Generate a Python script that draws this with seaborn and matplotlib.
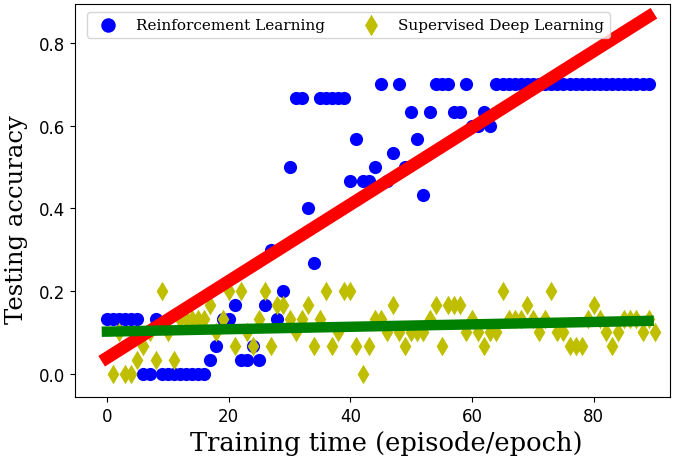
import matplotlib
matplotlib.use("Agg")
import matplotlib.pyplot as plt
import numpy as np
import pandas as pd
import seaborn as sns

# testing accuracy per episode (reinforcement learning), episodes 0..89
rl_episode = list(range(0, 90))
rl_acc = [
    0.133, 0.133, 0.133, 0.133, 0.133, 0.133, 0.0, 0.0, 0.133, 0.0,
    0.0, 0.0, 0.0, 0.0, 0.0, 0.0, 0.0, 0.033, 0.067, 0.133,
    0.133, 0.167, 0.033, 0.033, 0.067, 0.033, 0.167, 0.3, 0.133, 0.2,
    0.5, 0.667, 0.667, 0.4, 0.267, 0.667, 0.667, 0.667, 0.667, 0.667,
    0.467, 0.567, 0.467, 0.467, 0.5, 0.7, 0.467, 0.533, 0.7, 0.5,
    0.633, 0.567, 0.433, 0.633, 0.7, 0.7, 0.7, 0.633, 0.633, 0.7,
    0.6, 0.6, 0.633, 0.6, 0.7, 0.7, 0.7, 0.7, 0.7, 0.7,
    0.7, 0.7, 0.7, 0.7, 0.7, 0.7, 0.7, 0.7, 0.7, 0.7,
    0.7, 0.7, 0.7, 0.7, 0.7, 0.7, 0.7, 0.7, 0.7, 0.7,
]

# testing accuracy per epoch (supervised deep learning), epochs 1..90
sdl_epoch = list(range(1, 91))
sdl_acc = [
    0.0, 0.1, 0.0, 0.0, 0.033, 0.067, 0.1, 0.033, 0.2, 0.1,
    0.033, 0.133, 0.133, 0.133, 0.133, 0.133, 0.167, 0.1, 0.133, 0.2,
    0.067, 0.2, 0.1, 0.067, 0.133, 0.2, 0.067, 0.167, 0.167, 0.133,
    0.1, 0.133, 0.167, 0.067, 0.133, 0.2, 0.067, 0.1, 0.2, 0.2,
    0.067, 0.0, 0.067, 0.133, 0.133, 0.1, 0.167, 0.1, 0.067, 0.1,
    0.1, 0.1, 0.133, 0.167, 0.067, 0.167, 0.167, 0.167, 0.1, 0.133,
    0.1, 0.067, 0.1, 0.1, 0.2, 0.133, 0.133, 0.133, 0.167, 0.133,
    0.1, 0.133, 0.2, 0.1, 0.1, 0.067, 0.067, 0.067, 0.133, 0.167,
    0.133, 0.1, 0.067, 0.1, 0.133, 0.133, 0.133, 0.1, 0.133, 0.1,
]

rl = pd.DataFrame({"x": rl_episode, "acc": rl_acc})
sdl = pd.DataFrame({"x": sdl_epoch, "acc": sdl_acc})

fig, ax = plt.subplots(figsize=(6.85, 4.6), dpi=100)
fig.subplots_adjust(left=0.109, right=0.978, top=0.989, bottom=0.135)

sns.scatterplot(data=rl, x="x", y="acc", color="b", marker="o", s=90,
                linewidth=0, label="Reinforcement Learning", ax=ax, zorder=2)
sns.scatterplot(data=sdl, x="x", y="acc", color="y", marker="d", s=100,
                linewidth=0, label="Supervised Deep Learning", ax=ax, zorder=3)

# linear trend lines
fit_x = np.array(rl_episode)
rl_fit = np.polyval(np.polyfit(rl["x"], rl["acc"], 1), fit_x)
sdl_fit = np.polyval(np.polyfit(sdl["x"], sdl["acc"], 1), fit_x)
sns.lineplot(x=fit_x, y=rl_fit, color="r", linewidth=9, ax=ax, zorder=4)
sns.lineplot(x=fit_x, y=sdl_fit, color="g", linewidth=7.5, ax=ax, zorder=5)

ax.set_xlim(-5.3, 92.5)
ax.set_ylim(-0.056, 0.894)
ax.set_xticks([0, 20, 40, 60, 80])
ax.set_yticks([0.0, 0.2, 0.4, 0.6, 0.8])
ax.tick_params(labelsize=12)

ax.set_xlabel("Training time (episode/epoch)", family="DejaVu Serif", fontsize=18.5)
ax.set_ylabel("Testing accuracy", family="DejaVu Serif", fontsize=17.5)
ax.xaxis.set_label_coords(0.523, -0.085)
ax.yaxis.set_label_coords(-0.078, 0.455)

ax.legend(loc="upper left", bbox_to_anchor=(0.008, 1.0), ncol=2,
          prop={"family": "DejaVu Serif", "size": 11},
          markerscale=1.1, handletextpad=0.8, columnspacing=2.0)

plt.savefig("out.png", dpi=100)
